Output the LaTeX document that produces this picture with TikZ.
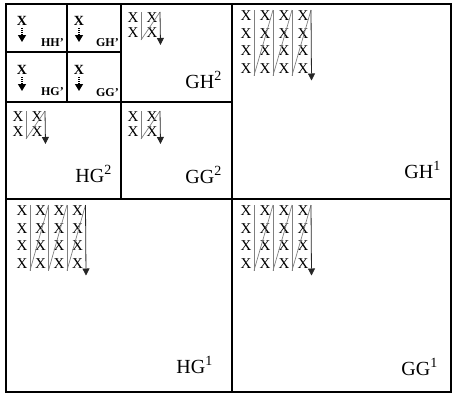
\documentclass[tikz,border=0pt]{standalone}
\usepackage{fontspec}
\setmainfont{Liberation Serif}
\usetikzlibrary{arrows.meta}
\newcommand{\zzgrid}[6]{%
  \pgfmathsetmacro{\zzlast}{#3+(#4-1)*#6}%
  \foreach \c in {1,...,#4}{%
    \pgfmathsetmacro{\zzx}{#2+(\c-1)*#5}%
    \foreach \r in {1,...,#4}{%
      \node[xmark] (#1-\c-\r) at ({\zzx},{#3+(\r-1)*#6}) {X};}
    \coordinate (#1-t\c) at ({\zzx+8},{#3-6});
    \coordinate (#1-b\c) at ({\zzx+8},{\zzlast+7});
  }
  \pgfmathsetmacro{\zzlx}{#2+(#4-1)*#5}%
  \coordinate (#1-end) at ({\zzlx+8.5},{\zzlast+12});
  \pgfmathtruncatemacro{\zzm}{#4-1}%
  \foreach \c in {1,...,\zzm}{%
    \pgfmathtruncatemacro{\cn}{\c+1}%
    \draw[zz] (#1-t\c) -- (#1-b\c);
    \draw[zz] (#1-b\c) -- (#1-t\cn);
  }
  \draw[zzend] (#1-t#4) -- (#1-end);
}
\begin{document}
\begin{tikzpicture}[x=1pt,y=-1pt,
  frame/.style={line width=1.9pt},
  divider/.style={line width=1.5pt},
  xmark/.style={inner sep=0pt, font=\fontsize{15}{15}\selectfont},
  smallx/.style={inner sep=0pt, font=\fontsize{14}{14}\selectfont\bfseries},
  zz/.style={black!50, line width=0.7pt},
  zzend/.style={black!85, line width=0.8pt, -{Triangle[width=7pt,length=7pt]}},
  bigl/.style={anchor=base east, inner sep=0pt, font=\fontsize{20}{20}\selectfont},
  smalll/.style={anchor=base east, inner sep=0pt, font=\fontsize{12}{12}\selectfont\bfseries},
  dotarrow/.style={densely dotted, line width=1.2pt, shorten <=2pt, -{Triangle[width=8pt,length=7pt]}}
]
\useasboundingbox (0,0) rectangle (454,394);
% frame and dividers
\draw[frame] (6,4) rectangle (451,392);
\draw[divider] (232,4) -- (232,392);
\draw[divider] (6,199) -- (451,199);
\draw[divider] (6,102) -- (232,102);
\draw[divider] (121,4) -- (121,199);
\draw[divider] (67,4) -- (67,102);
\draw[divider] (6,52) -- (121,52);
% small boxes
\node[smallx] (hhx) at (22,21) {X};
\coordinate (hha) at (22,42);
\draw[dotarrow] (hhx.south) -- (hha);
\node[smalll] (hhl) at (64,46) {HH’};
\node[smallx] (ghx) at (79,21) {X};
\coordinate (gha) at (79,42);
\draw[dotarrow] (ghx.south) -- (gha);
\node[smalll] (ghl) at (119,46) {GH’};
\node[smallx] (hgx) at (22,70) {X};
\coordinate (hga) at (22,91);
\draw[dotarrow] (hgx.south) -- (hga);
\node[smalll] (hgl) at (64,95) {HG’};
\node[smallx] (ggx) at (79,70) {X};
\coordinate (gga) at (79,91);
\draw[dotarrow] (ggx.south) -- (gga);
\node[smalll] (ggl) at (119,96) {GG’};
% 2x2 grids
\zzgrid{ghtwo}{133}{18}{2}{19}{15}
\zzgrid{hgtwo}{18}{117}{2}{19}{15}
\zzgrid{ggtwo}{133}{117}{2}{19}{15}
% 4x4 grids
\zzgrid{ghone}{246}{16}{4}{19}{17.5}
\zzgrid{ggone}{246}{211}{4}{19}{17.5}
\zzgrid{hgone}{22}{211}{4}{18.5}{17.5}
% labels
\node[bigl] (lgh2) at (222,88) {GH\textsuperscript{2}};
\node[bigl] (lhg2) at (112,182) {HG\textsuperscript{2}};
\node[bigl] (lgg2) at (222,183) {GG\textsuperscript{2}};
\node[bigl] (lgh1) at (441,178) {GH\textsuperscript{1}};
\node[bigl] (lhg1) at (213,373) {HG\textsuperscript{1}};
\node[bigl] (lgg1) at (438,375) {GG\textsuperscript{1}};
\end{tikzpicture}
\end{document}
